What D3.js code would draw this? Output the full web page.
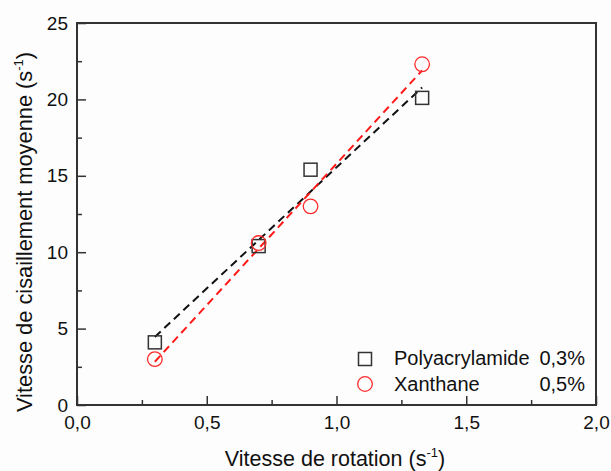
<!DOCTYPE html>
<html><head><meta charset="utf-8">
<script src="https://cdn.jsdelivr.net/npm/d3@7"></script>
<style>body{margin:0;background:#fdfdfd}svg{display:block}text{font-family:"Liberation Sans",Arial,sans-serif;fill:#111}</style>
</head><body>
<script>
const rotation = [0.3, 0.7, 0.9, 1.33];
const polyacrylamide = [4.1, 10.4, 15.4, 20.1];
const xanthane = [3.0, 10.6, 13.0, 22.3];
const xTicks = [0, 0.5, 1.0, 1.5, 2.0];
const yTicks = [0, 5, 10, 15, 20, 25];
const legendNames = ["Polyacrylamide", "Xanthane"];
const legendConc = ["0,3%", "0,5%"];

const W = 611, H = 471;
const m = {l: 77, t: 23, r: 15, b: 66};
const svg = d3.select("body").append("svg").attr("width", W).attr("height", H);
svg.append("rect").attr("width", W).attr("height", H).attr("fill", "#fdfdfd");
const x = d3.scaleLinear().domain([0, 2]).range([m.l, W - m.r]);
const y = d3.scaleLinear().domain([0, 25]).range([H - m.b, m.t]);
const fmt = d => d3.format(".1f")(d).replace(".", ",");

// axes with inward ticks
const xAxis = d3.axisBottom(x).tickValues(xTicks).tickSize(-9).tickPadding(11).tickFormat(fmt);
svg.append("g").attr("transform", `translate(0,${y(0)})`).call(xAxis);
const xMinor = d3.axisBottom(x).tickValues([0.25, 0.75, 1.25, 1.75]).tickSize(-5).tickFormat("");
svg.append("g").attr("transform", `translate(0,${y(0)})`).call(xMinor);
const yAxis = d3.axisLeft(y).tickValues(yTicks).tickSize(-9).tickPadding(9);
svg.append("g").attr("transform", `translate(${x(0)},0)`).call(yAxis);
const yMinor = d3.axisLeft(y).tickValues([2.5, 7.5, 12.5, 17.5, 22.5]).tickSize(-5).tickFormat("");
svg.append("g").attr("transform", `translate(${x(0)},0)`).call(yMinor);
svg.selectAll(".tick line").attr("stroke", "#333").attr("stroke-width", 1.5);
svg.selectAll(".domain").remove();
svg.selectAll(".tick text").attr("font-size", 19).attr("fill", "#111");
// frame
svg.append("rect").attr("x", x(0)).attr("y", y(25)).attr("width", x(2) - x(0)).attr("height", y(0) - y(25))
  .attr("fill", "none").attr("stroke", "#333").attr("stroke-width", 2);

// linear fits (least squares from the data)
function fit(xs, ys) {
  const mx = d3.mean(xs), my = d3.mean(ys);
  const sxy = d3.sum(xs, (v, i) => (v - mx) * (ys[i] - my));
  const sxx = d3.sum(xs, v => (v - mx) ** 2);
  const b = sxy / sxx, a = my - b * mx;
  return [[xs[0], a + b * xs[0]], [xs[xs.length - 1], a + b * xs[xs.length - 1]]];
}
const line = d3.line().x(d => x(d[0])).y(d => y(d[1]));
svg.append("path").attr("d", line(fit(rotation, polyacrylamide))).attr("stroke", "#111")
  .attr("stroke-width", 2).attr("stroke-dasharray", "8,5").attr("fill", "none");
svg.append("path").attr("d", line(fit(rotation, xanthane))).attr("stroke", "#ff1a1a")
  .attr("stroke-width", 2).attr("stroke-dasharray", "8,5").attr("fill", "none");

// markers
const s = 13;
svg.selectAll(".sq").data(rotation).enter().append("rect")
  .attr("x", (d) => x(d) - s / 2).attr("y", (d, i) => y(polyacrylamide[i]) - s / 2)
  .attr("width", s).attr("height", s).attr("fill", "none").attr("stroke", "#333").attr("stroke-width", 1.5);
svg.selectAll(".ci").data(rotation).enter().append("circle")
  .attr("cx", d => x(d)).attr("cy", (d, i) => y(xanthane[i])).attr("r", 7.3)
  .attr("fill", "none").attr("stroke", "#ff2a2a").attr("stroke-width", 1.3);

// legend
const lg = svg.append("g");
lg.append("rect").attr("x", 365 - 6.5).attr("y", 359 - 6.5).attr("width", 13).attr("height", 13)
  .attr("fill", "none").attr("stroke", "#333").attr("stroke-width", 1.5);
lg.append("circle").attr("cx", 365).attr("cy", 384).attr("r", 7.3).attr("fill", "none").attr("stroke", "#ff2a2a").attr("stroke-width", 1.3);
[365, 391].forEach((yy, i) => {
  lg.append("text").attr("x", 394).attr("y", yy).attr("font-size", 20).text(legendNames[i]);
  lg.append("text").attr("x", 585).attr("y", yy).attr("font-size", 20).attr("text-anchor", "end").text(legendConc[i]);
});

// axis titles
const xt = svg.append("text").attr("x", 335).attr("y", 466).attr("text-anchor", "middle").attr("font-size", 21.5);
xt.append("tspan").text("Vitesse de rotation (s");
xt.append("tspan").attr("font-size", 13).attr("dy", -9).text("-1");
xt.append("tspan").attr("dy", 9).text(")");
const yt = svg.append("text").attr("transform", `translate(32,232) rotate(-90)`)
  .attr("text-anchor", "middle").attr("font-size", 21.8);
yt.append("tspan").text("Vitesse de cisaillement moyenne (s");
yt.append("tspan").attr("font-size", 13).attr("dy", -9).text("-1");
yt.append("tspan").attr("dy", 9).text(")");
</script>
</body></html>
